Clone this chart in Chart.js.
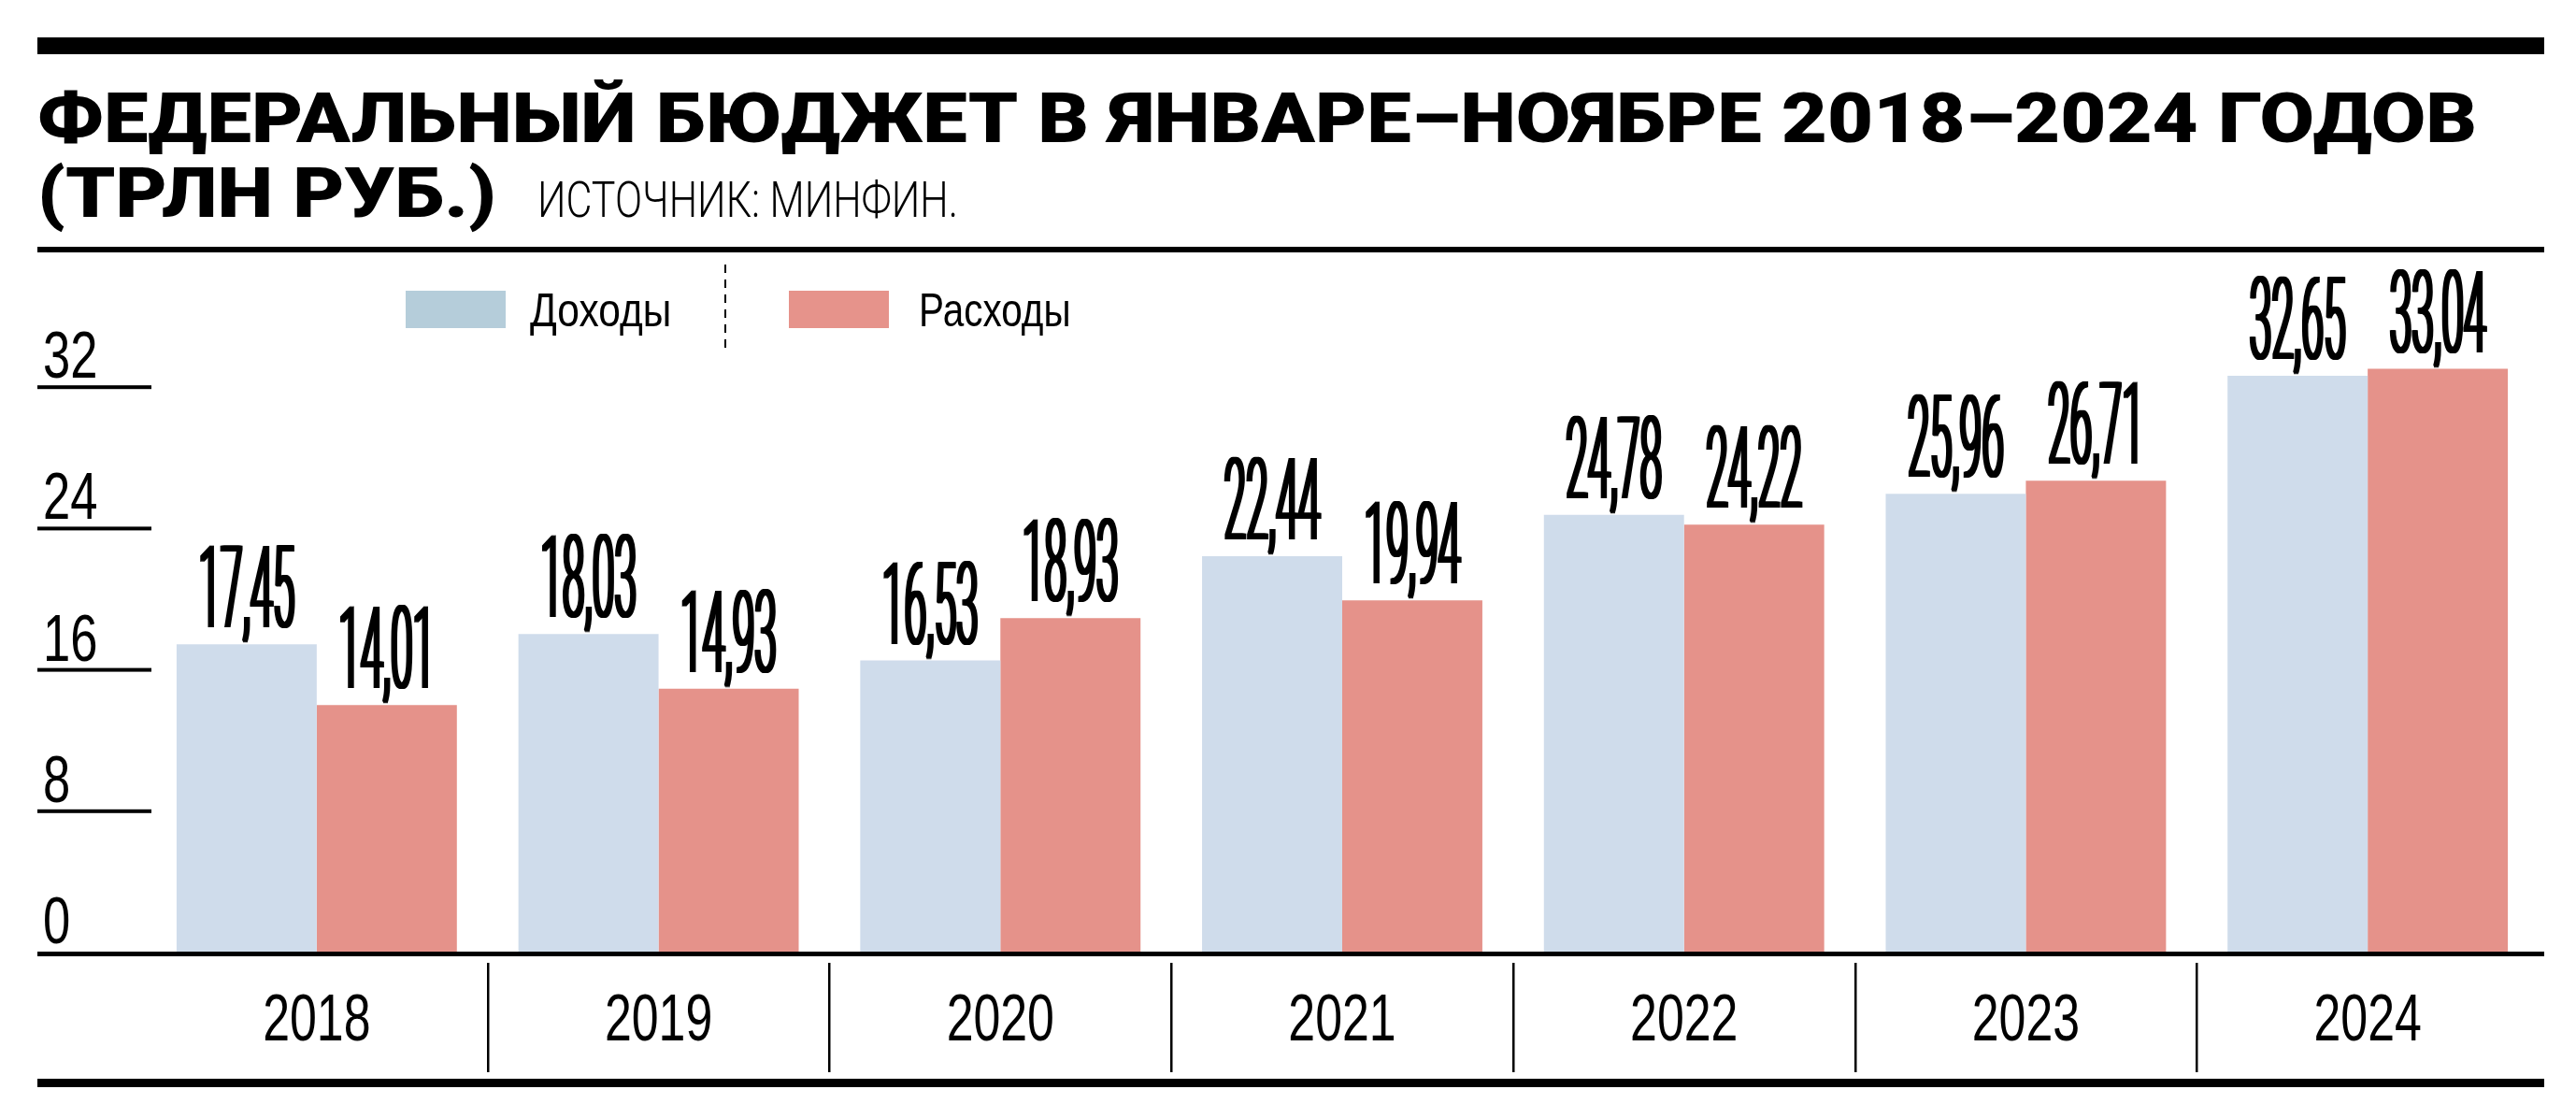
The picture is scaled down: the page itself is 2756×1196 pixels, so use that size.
<!DOCTYPE html>
<html lang="ru">
<head>
<meta charset="utf-8">
<title>Федеральный бюджет в январе–ноябре 2018–2024 годов</title>
<script src="https://cdn.jsdelivr.net/npm/chart.js@4.4.1/dist/chart.umd.min.js"></script>
<style>
  html, body { margin: 0; padding: 0; background: #fff; }
  #chart { display: block; }
</style>
</head>
<body>
<canvas id="chart" width="2756" height="1196"></canvas>
<script>
// данные: федеральный бюджет, трлн руб.
const years = ['2018', '2019', '2020', '2021', '2022', '2023', '2024'];
const incomeValues = [17.45, 18.03, 16.53, 22.44, 24.78, 25.96, 32.65];
const expenseValues = [14.01, 14.93, 18.93, 19.94, 24.22, 26.71, 33.04];
const yTickValues = [0, 8, 16, 24, 32];
const seriesNames = ['Доходы', 'Расходы'];

const titleLine1 = 'ФЕДЕРАЛЬНЫЙ БЮДЖЕТ В ЯНВАРЕ–НОЯБРЕ 2018–2024 ГОДОВ';
const titleLine2 = '(ТРЛН РУБ.)';
const sourceText = 'ИСТОЧНИК: МИНФИН.';

const COLORS = {
  income: '#cfdceb',
  expense: '#e5928a',
  incomeLegend: '#b5cdda',
  expenseLegend: '#e6938b',
  ink: '#000000'
};

const RULE_LEFT = 40;
const RULE_RIGHT = 2722;

// текст со сжатием по горизонтали (узкий шрифт)
// thicken: сколько раз повторить заливку со сдвигом в 1px, чтобы утолщить вертикальные штрихи
function drawText(ctx, text, x, y, font, sx, align, thicken) {
  const n = thicken || 0;
  ctx.save();
  ctx.font = font;
  ctx.fillStyle = COLORS.ink;
  ctx.textBaseline = 'alphabetic';
  ctx.textAlign = align || 'left';
  for (let k = 0; k <= n; k++) {
    ctx.save();
    ctx.translate(x + k - n / 2, y);
    ctx.scale(sx, 1);
    ctx.fillText(text, 0, 0);
    ctx.restore();
  }
  ctx.restore();
}

function fitScale(ctx, text, font, width) {
  ctx.save();
  ctx.font = font;
  const w = ctx.measureText(text).width;
  ctx.restore();
  return width / w;
}

function fmt(v) {
  return v.toFixed(2).replace('.', ',');
}

const decorPlugin = {
  id: 'decor',
  beforeDraw(chart) {
    const ctx = chart.ctx;
    ctx.save();
    ctx.fillStyle = '#fff';
    ctx.fillRect(0, 0, chart.width, chart.height);
    ctx.restore();
  },
  afterDatasetsDraw(chart) {
    const ctx = chart.ctx;
    const xs = chart.scales.x;
    const ys = chart.scales.y;

    // линейки
    ctx.save();
    ctx.fillStyle = COLORS.ink;
    ctx.fillRect(RULE_LEFT, 40, RULE_RIGHT - RULE_LEFT, 18);
    ctx.fillRect(RULE_LEFT, 264, RULE_RIGHT - RULE_LEFT, 6);
    ctx.fillRect(RULE_LEFT, 1154, RULE_RIGHT - RULE_LEFT, 9);
    ctx.restore();

    // заголовок
    const titleFont = '900 74px Roboto, "Liberation Sans", sans-serif';
    const tsx = fitScale(ctx, titleLine1, titleFont, 2610);
    drawText(ctx, titleLine1, 40, 152, titleFont, tsx);
    drawText(ctx, titleLine2, 40, 232, titleFont, tsx);
    const srcFont = '300 54px Roboto, "Liberation Sans", sans-serif';
    drawText(ctx, sourceText, 575, 232, srcFont, fitScale(ctx, sourceText, srcFont, 450));

    // легенда
    ctx.save();
    ctx.fillStyle = COLORS.incomeLegend;
    ctx.fillRect(434, 311, 107, 40);
    ctx.fillStyle = COLORS.expenseLegend;
    ctx.fillRect(844, 311, 107, 40);
    ctx.strokeStyle = COLORS.ink;
    ctx.lineWidth = 2;
    ctx.setLineDash([9, 7]);
    ctx.beginPath();
    ctx.moveTo(776, 283);
    ctx.lineTo(776, 376);
    ctx.stroke();
    ctx.restore();
    const legendFont = '50px "Liberation Sans", Arial, sans-serif';
    drawText(ctx, seriesNames[0], 567, 349, legendFont, 0.85);
    drawText(ctx, seriesNames[1], 983, 349, legendFont, 0.81);

    // ось Y: подписи и короткие линии
    const tickFont = '71px "Liberation Sans", Arial, sans-serif';
    ctx.save();
    ctx.fillStyle = COLORS.ink;
    yTickValues.forEach(v => {
      const py = ys.getPixelForValue(v);
      if (v > 0) ctx.fillRect(RULE_LEFT, py - 2, 122, 4);
      drawText(ctx, String(v), 46, py - 10, tickFont, 0.74);
    });
    ctx.restore();

    // базовая линия
    const y0 = ys.getPixelForValue(0);
    ctx.save();
    ctx.fillStyle = COLORS.ink;
    ctx.fillRect(RULE_LEFT, y0 - 1, RULE_RIGHT - RULE_LEFT, 5);

    // разделители и подписи лет
    const step = xs.getPixelForTick(1) - xs.getPixelForTick(0);
    years.forEach((yr, i) => {
      const cx = xs.getPixelForTick(i);
      if (i > 0) ctx.fillRect(Math.round(cx - step / 2) - 1, 1030, 2.5, 117);
      drawText(ctx, yr, cx, 1113, tickFont, 0.73, 'center');
    });
    ctx.restore();

    // значения над столбцами
    const valueFont = '300 122px Roboto, "Liberation Sans", sans-serif';
    chart.data.datasets.forEach((ds, di) => {
      const meta = chart.getDatasetMeta(di);
      meta.data.forEach((bar, i) => {
        drawText(ctx, fmt(ds.data[i]), bar.x, bar.y - 18, valueFont, 0.35, 'center', 4);
      });
    });
  }
};

new Chart(document.getElementById('chart'), {
  type: 'bar',
  data: {
    labels: years,
    datasets: [
      {
        label: seriesNames[0],
        data: incomeValues,
        backgroundColor: COLORS.income,
        borderWidth: 0
      },
      {
        label: seriesNames[1],
        data: expenseValues,
        backgroundColor: COLORS.expense,
        borderWidth: 0
      }
    ]
  },
  options: {
    responsive: false,
    devicePixelRatio: 1,
    animation: false,
    layout: {
      padding: { left: 156, right: 40, top: 263, bottom: 177 }
    },
    datasets: {
      bar: {
        categoryPercentage: 0.82,
        barPercentage: 1.0
      }
    },
    plugins: {
      legend: { display: false },
      tooltip: { enabled: false }
    },
    scales: {
      x: { display: false },
      y: { display: false, min: 0, max: 40 }
    }
  },
  plugins: [decorPlugin]
});
</script>
</body>
</html>
